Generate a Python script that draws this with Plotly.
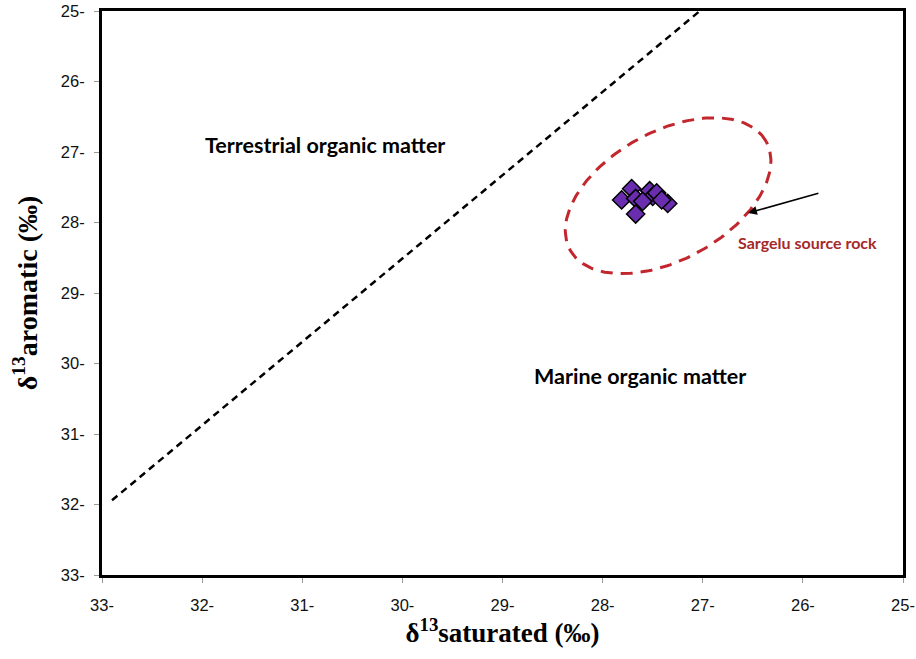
import numpy as np
import plotly.graph_objects as go

# Carbon isotope composition of the samples (per mil, negative values)
sat_d13c = [-27.81, -27.71, -27.67, -27.67, -27.53, -27.50, -27.46, -27.35, -27.60, -27.41]
aro_d13c = [-27.68, -27.52, -27.66, -27.88, -27.55, -27.63, -27.58, -27.73, -27.70, -27.68]

# Terrestrial / marine dividing line (end points)
line_sat = [-32.9, -27.03]
line_aro = [-31.94, -25.0]

# Sargelu source rock field: centre and the two semi-axis vectors
field_center = (-27.346, -27.62)
field_u = (0.979, 0.770)
field_v = (-0.310, 0.794)

tick_vals = [-33, -32, -31, -30, -29, -28, -27, -26, -25]
tick_text = ["33-", "32-", "31-", "30-", "29-", "28-", "27-", "26-", "25-"]

t = np.linspace(0, 2 * np.pi, 241)
ell_x = field_center[0] + field_u[0] * np.cos(t) + field_v[0] * np.sin(t)
ell_y = field_center[1] + field_u[1] * np.cos(t) + field_v[1] * np.sin(t)

fig = go.Figure()

fig.add_trace(go.Scatter(
    x=line_sat, y=line_aro, mode="lines",
    line=dict(color="black", width=2.5, dash="7px,5px"),
    hoverinfo="skip", showlegend=False,
))

fig.add_trace(go.Scatter(
    x=ell_x, y=ell_y, mode="lines",
    line=dict(color="#C1272D", width=3, dash="12px,8px"),
    hoverinfo="skip", showlegend=False,
))

fig.add_trace(go.Scatter(
    x=sat_d13c, y=aro_d13c, mode="markers",
    marker=dict(symbol="diamond", size=14, color="#6A2DB0",
                line=dict(color="black", width=1.5)),
    showlegend=False,
))

fig.add_annotation(
    x=-26.547, y=-27.865, ax=-25.83, ay=-27.58,
    xref="x", yref="y", axref="x", ayref="y",
    showarrow=True, arrowhead=2, arrowsize=1.1, arrowwidth=1.6,
    arrowcolor="black", text="",
)

label_font = dict(family="Lato, 'Open Sans', sans-serif", size=21.5, color="black")
fig.add_annotation(x=-30.77, y=-26.90, xref="x", yref="y", showarrow=False,
                   text="<b>Terrestrial organic matter</b>", font=label_font)
fig.add_annotation(x=-27.63, y=-30.18, xref="x", yref="y", showarrow=False,
                   text="<b>Marine organic matter</b>", font=label_font)
fig.add_annotation(x=-25.95, y=-28.28, xref="x", yref="y", showarrow=False,
                   text="<b>Sargelu source rock</b>",
                   font=dict(family="Lato, 'Open Sans', sans-serif", size=16, color="#A52A2A"))

axis_common = dict(
    tickvals=tick_vals, ticktext=tick_text,
    range=[-33, -25], showgrid=False, zeroline=False, automargin=False,
    showline=True, linecolor="black", linewidth=3, mirror=True,
    ticks="outside", ticklen=5, tickcolor="#999999", tickwidth=1,
    tickfont=dict(family="Liberation Sans, Arial, sans-serif", size=16.5, color="#111111"),
)

fig.update_xaxes(
    **axis_common,
    ticklabelstandoff=8,
    title=dict(text="<b>δ<sup>13</sup>saturated (‰)</b>",
               font=dict(family="Liberation Serif, 'Times New Roman', serif", size=27, color="black"),
               standoff=3),
)
fig.update_yaxes(
    **axis_common,
    ticklabelstandoff=6,
    title=dict(text="<b>δ<sup>13</sup>aromatic (‰)</b>",
               font=dict(family="Liberation Serif, 'Times New Roman', serif", size=28, color="black"),
               standoff=16),
)

fig.update_layout(
    width=916, height=659,
    margin=dict(l=102, r=13, t=11, b=84),
    plot_bgcolor="white", paper_bgcolor="white",
)

fig.write_html("out.html")
